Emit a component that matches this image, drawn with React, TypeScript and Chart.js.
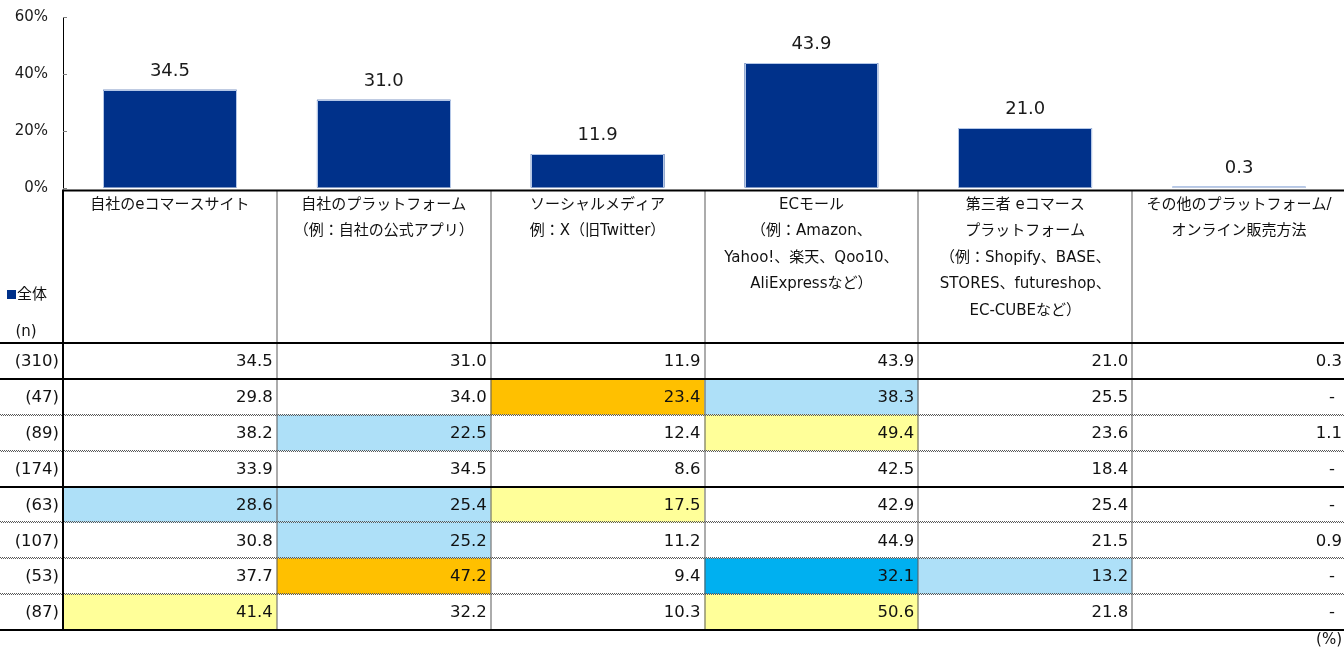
import React, { useEffect, useRef } from 'react';
import { Chart, registerables } from 'chart.js';

Chart.register(...registerables);

// ---------- data ----------
const categoryKeys = ['自社のeコマースサイト', '自社のプラットフォーム', 'ソーシャルメディア', 'ECモール', '第三者 eコマースプラットフォーム', 'その他のプラットフォーム/オンライン販売方法'];

const headerLines: string[][] = [
  ['自社のeコマースサイト'],
  ['自社のプラットフォーム', '（例：自社の公式アプリ）'],
  ['ソーシャルメディア', '例：X（旧Twitter）'],
  ['ECモール', '（例：Amazon、', 'Yahoo!、楽天、Qoo10、', 'AliExpressなど）'],
  ['第三者 eコマース', 'プラットフォーム', '（例：Shopify、BASE、', 'STORES、futureshop、', 'EC-CUBEなど）'],
  ['その他のプラットフォーム/', 'オンライン販売方法'],
];

const overallValues = [34.5, 31.0, 11.9, 43.9, 21.0, 0.3];
const yTickValues = [0, 20, 40, 60];

const sampleSizes = ['(310)', '(47)', '(89)', '(174)', '(63)', '(107)', '(53)', '(87)'];

const row0 = [34.5, 31.0, 11.9, 43.9, 21.0, 0.3];
const row1 = [29.8, 34.0, 23.4, 38.3, 25.5, null];
const row2 = [38.2, 22.5, 12.4, 49.4, 23.6, 1.1];
const row3 = [33.9, 34.5, 8.6, 42.5, 18.4, null];
const row4 = [28.6, 25.4, 17.5, 42.9, 25.4, null];
const row5 = [30.8, 25.2, 11.2, 44.9, 21.5, 0.9];
const row6 = [37.7, 47.2, 9.4, 32.1, 13.2, null];
const row7 = [41.4, 32.2, 10.3, 50.6, 21.8, null];
const tableRows: (number | null)[][] = [row0, row1, row2, row3, row4, row5, row6, row7];

// significance marks: '+10' much higher, '+5' higher, '-5' lower, '-10' much lower
const sig0 = ['', '', '', '', '', ''];
const sig1 = ['', '', '+10', '-5', '', ''];
const sig2 = ['', '-5', '', '+5', '', ''];
const sig3 = ['', '', '', '', '', ''];
const sig4 = ['-5', '-5', '+5', '', '', ''];
const sig5 = ['', '-5', '', '', '', ''];
const sig6 = ['', '+10', '', '-10', '-5', ''];
const sig7 = ['+5', '', '', '+5', '', ''];
const sigRows = [sig0, sig1, sig2, sig3, sig4, sig5, sig6, sig7];

const legendLabel = '全体';
const nLabel = '(n)';
const unitLabel = '(%)';

// ---------- styles ----------
const FONT = "'DejaVu Sans', 'Noto Sans CJK JP', sans-serif";
const NAVY = '#00318A';
const BAR_EDGE = '#B4C7E7';
const DOT = '#5a5a5a';
const SIG_COLORS: Record<string, string> = {
  '+10': '#FFC000',
  '+5': '#FFFF99',
  '-5': '#AEE0F8',
  '-10': '#00B0F0',
};

function dottedH(ctx: CanvasRenderingContext2D, x0: number, x1: number, y: number) {
  ctx.save();
  ctx.strokeStyle = DOT;
  ctx.lineWidth = 1;
  ctx.setLineDash([1, 1]);
  ctx.beginPath();
  ctx.lineDashOffset = 0;
  ctx.moveTo(x0, y - 0.5);
  ctx.lineTo(x1, y - 0.5);
  ctx.stroke();
  ctx.beginPath();
  ctx.lineDashOffset = 1;
  ctx.moveTo(x0, y + 0.5);
  ctx.lineTo(x1, y + 0.5);
  ctx.stroke();
  ctx.restore();
}

function dottedV(ctx: CanvasRenderingContext2D, x: number, y0: number, y1: number) {
  ctx.save();
  ctx.strokeStyle = DOT;
  ctx.lineWidth = 1;
  ctx.setLineDash([1, 1]);
  ctx.beginPath();
  ctx.lineDashOffset = 0;
  ctx.moveTo(x - 0.5, y0);
  ctx.lineTo(x - 0.5, y1);
  ctx.stroke();
  ctx.beginPath();
  ctx.lineDashOffset = 1;
  ctx.moveTo(x + 0.5, y0);
  ctx.lineTo(x + 0.5, y1);
  ctx.stroke();
  ctx.restore();
}

function solidH(ctx: CanvasRenderingContext2D, x0: number, x1: number, y: number) {
  ctx.save();
  ctx.strokeStyle = '#000';
  ctx.lineWidth = 2;
  ctx.beginPath();
  ctx.moveTo(x0, y);
  ctx.lineTo(x1, y);
  ctx.stroke();
  ctx.restore();
}

const barLabelPlugin = {
  id: 'barLabels',
  afterDatasetsDraw(chart: any) {
    const ctx = chart.ctx as CanvasRenderingContext2D;
    const meta = chart.getDatasetMeta(0);
    ctx.save();
    // light edge around each bar (also makes tiny bars visible)
    ctx.strokeStyle = BAR_EDGE;
    ctx.lineWidth = 1;
    meta.data.forEach((bar: any) => {
      const w = bar.width;
      const x0 = Math.round(bar.x - w / 2) + 0.5;
      const x1 = Math.round(bar.x + w / 2) - 0.5;
      const yTop = Math.min(Math.round(bar.y) + 0.5, Math.round(bar.base) - 1.5);
      const yBot = Math.round(bar.base) - 0.5;
      ctx.beginPath();
      ctx.moveTo(x0, yBot);
      ctx.lineTo(x0, yTop);
      ctx.lineTo(x1, yTop);
      ctx.lineTo(x1, yBot);
      ctx.stroke();
    });
    ctx.font = `18px ${FONT}`;
    ctx.fillStyle = '#1a1a1a';
    ctx.textAlign = 'center';
    ctx.textBaseline = 'alphabetic';
    meta.data.forEach((bar: any, i: number) => {
      ctx.fillText(overallValues[i].toFixed(1), bar.x, bar.y - 14);
    });
    ctx.restore();
  },
};

const axisTickPlugin = {
  id: 'axisTicks',
  afterDraw(chart: any) {
    const ctx = chart.ctx as CanvasRenderingContext2D;
    const ys = chart.scales.y;
    ctx.save();
    ctx.strokeStyle = '#808080';
    ctx.lineWidth = 1;
    yTickValues.forEach((v) => {
      const y = Math.round(ys.getPixelForValue(v)) + 0.5;
      ctx.beginPath();
      ctx.moveTo(ys.right, y);
      ctx.lineTo(ys.right + 4, y);
      ctx.stroke();
    });
    ctx.restore();
  },
};

const tablePlugin = {
  id: 'table',
  afterDraw(chart: any) {
    const ctx = chart.ctx as CanvasRenderingContext2D;
    const xs = chart.scales.x;
    const n = categoryKeys.length;
    const colW = (xs.right - xs.left) / n;
    const colLeft = (i: number) => xs.getPixelForValue(i) - colW / 2;
    const left = xs.left;
    const right = chart.width;
    const tableTop = 190.5;
    const headerBottom = 343;
    const tableBottom = 630;
    const rowH = (tableBottom - headerBottom) / tableRows.length;
    const rowTop = (r: number) => headerBottom + r * rowH;

    ctx.save();
    // cell fills
    sigRows.forEach((sr, r) => {
      sr.forEach((code, c) => {
        if (code && SIG_COLORS[code]) {
          ctx.fillStyle = SIG_COLORS[code];
          ctx.fillRect(colLeft(c), rowTop(r), colW, rowH);
        }
      });
    });

    // header texts
    ctx.fillStyle = '#111';
    ctx.font = `15px ${FONT}`;
    ctx.textAlign = 'center';
    ctx.textBaseline = 'middle';
    headerLines.forEach((lines, c) => {
      const cx = xs.getPixelForValue(c);
      lines.forEach((line, k) => {
        ctx.fillText(line, cx, 205 + k * 26.5);
      });
    });

    // legend + (n)
    ctx.fillStyle = NAVY;
    ctx.fillRect(7, 290, 9, 9);
    ctx.fillStyle = '#111';
    ctx.textAlign = 'left';
    ctx.fillText(legendLabel, 17, 295);
    ctx.textAlign = 'center';
    ctx.fillText(nLabel, 26, 332);

    // values
    ctx.font = `16.5px ${FONT}`;
    ctx.textAlign = 'right';
    tableRows.forEach((row, r) => {
      const cy = rowTop(r) + rowH / 2 + 1;
      ctx.fillText(sampleSizes[r], 59, cy);
      row.forEach((v, c) => {
        const rx = colLeft(c) + colW - 4;
        if (v === null) {
          ctx.fillText('-', rx - 7, cy);
        } else {
          ctx.fillText(v.toFixed(1), rx, cy);
        }
      });
    });

    // unit
    ctx.font = `15px ${FONT}`;
    ctx.fillText(unitLabel, 1342, 640);

    // lines
    const thickAfter = [0, 1, 4, 8];
    for (let r = 1; r < tableRows.length; r++) {
      if (!thickAfter.includes(r)) dottedH(ctx, 0, right, Math.round(rowTop(r)));
    }
    for (let c = 1; c < n; c++) {
      dottedV(ctx, Math.round(colLeft(c)), tableTop, tableBottom);
    }
    solidH(ctx, left, right, tableTop);
    thickAfter.forEach((r) => solidH(ctx, 0, right, Math.round(rowTop(r))));
    // left border
    ctx.strokeStyle = '#000';
    ctx.lineWidth = 2;
    ctx.beginPath();
    ctx.moveTo(left, tableTop - 1);
    ctx.lineTo(left, tableBottom + 1);
    ctx.stroke();
    ctx.restore();
  },
};

export default function App() {
  const canvasRef = useRef<HTMLCanvasElement | null>(null);

  useEffect(() => {
    document.body.style.margin = '0';
    const canvas = canvasRef.current;
    if (!canvas) return;
    const chart = new Chart(canvas, {
      type: 'bar',
      data: {
        labels: categoryKeys,
        datasets: [
          {
            label: legendLabel,
            data: overallValues,
            backgroundColor: NAVY,
            borderWidth: 0,
            categoryPercentage: 1,
            barPercentage: 0.625,
          },
        ],
      },
      options: {
        responsive: false,
        maintainAspectRatio: false,
        animation: false,
        devicePixelRatio: 1,
        layout: { autoPadding: false, padding: { top: 17, bottom: 460, left: 0, right: 0 } },
        plugins: {
          legend: { display: false },
          tooltip: { enabled: false },
          title: { display: false },
        },
        scales: {
          x: {
            type: 'category',
            display: false,
            offset: true,
          },
          y: {
            min: 0,
            max: 60,
            afterBuildTicks: (s: any) => {
              s.ticks = yTickValues.map((v) => ({ value: v }));
            },
            afterFit: (s: any) => {
              s.width = 63;
              s.paddingTop = 0;
              s.paddingBottom = 0;
            },
            ticks: {
              padding: 15,
              color: '#1a1a1a',
              font: { family: FONT, size: 15 },
              callback: (v: any) => `${v}%`,
            },
            grid: { display: true, drawOnChartArea: false, drawTicks: false },
            border: { display: true, color: '#000', width: 1 },
          },
        },
      },
      plugins: [barLabelPlugin, axisTickPlugin, tablePlugin],
    });
    return () => chart.destroy();
  }, []);

  return (
    <div style={{ position: 'fixed', left: 0, top: 0, width: 1344, height: 648, overflow: 'hidden', background: '#fff' }}>
      <canvas ref={canvasRef} width={1346} height={648} style={{ width: 1346, height: 648, display: 'block' }} />
    </div>
  );
}
